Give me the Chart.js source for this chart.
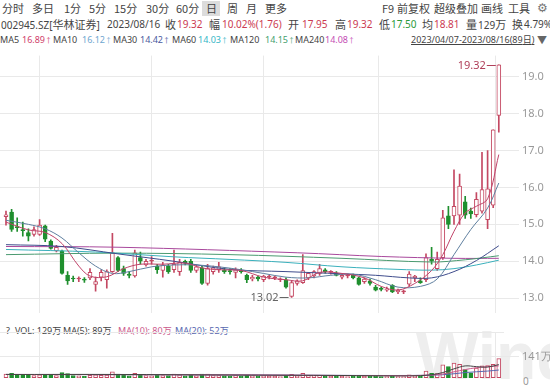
<!DOCTYPE html>
<html>
<head>
<meta charset="utf-8">
<script src="https://cdn.jsdelivr.net/npm/chart.js@4.4.1/dist/chart.umd.min.js"></script>
<style>
  html, body { margin: 0; padding: 0; background: #fff; }
  body { width: 550px; height: 388px; overflow: hidden; position: relative;
         font-family: "Noto Sans CJK SC", "Noto Sans", sans-serif; color: #444; }
  .t { position: absolute; font-size: 11px; line-height: 14px; white-space: nowrap; }
  .n { font-family: "Noto Sans", "Noto Sans CJK SC", sans-serif; font-size: 10px; }
  .m { font-family: "Noto Sans", "Noto Sans CJK SC", sans-serif; font-size: 9px; }
  .c { font-family: "Noto Sans CJK SC", sans-serif; font-size: 11px; }
  .a { font-size: 7px; }
  .r { color: #cc3a52; }
  .g { color: #2a9a3a; }
  .sel { position: absolute; left: 202px; top: 1px; width: 18px; height: 15px; background: #dcdcdc; }
  #wm { position: absolute; left: 416px; top: 318px; font: bold 66px "Liberation Sans", Arial, sans-serif; color: #eeeeee; }
  #priceChart { position: absolute; left: 0; top: 46px; }
  #volChart { position: absolute; left: 0; top: 323px; }
</style>
</head>
<body>
<div id="wm">Wind</div>

<!-- toolbar -->
<div class="sel"></div>
<span class="t" style="left:2px;top:1px">分时</span>
<span class="t" style="left:32px;top:1px">多日</span>
<span class="t" style="left:64px;top:1px">1分</span>
<span class="t" style="left:89px;top:1px">5分</span>
<span class="t" style="left:114px;top:1px">15分</span>
<span class="t" style="left:146px;top:1px">30分</span>
<span class="t" style="left:176px;top:1px">60分</span>
<span class="t" style="left:206px;top:1px">日</span>
<span class="t" style="left:227px;top:1px">周</span>
<span class="t" style="left:246px;top:1px">月</span>
<span class="t" style="left:265px;top:1px">更多</span>
<span class="t" style="left:382px;top:1px">F9</span>
<span class="t" style="left:397px;top:1px">前复权</span>
<span class="t" style="left:434px;top:1px">超级叠加</span>
<span class="t" style="left:481px;top:1px">画线</span>
<span class="t" style="left:508px;top:1px">工具</span>
<span class="t" style="left:537px;top:0px;color:#777;font-size:12px">⚙</span>

<!-- quote line -->
<span class="t n" style="left:1px;top:17px">002945.SZ[<span class="c">华林证券</span>]</span>
<span class="t n" style="left:107px;top:17px">2023/08/16</span>
<span class="t c" style="left:165px;top:17px">收</span>
<span class="t n r" style="left:177px;top:17px">19.32</span>
<span class="t c" style="left:209px;top:17px">幅</span>
<span class="t n r" style="left:222px;top:17px">10.02%(1.76)</span>
<span class="t c" style="left:288px;top:17px">开</span>
<span class="t n r" style="left:302px;top:17px">17.95</span>
<span class="t c" style="left:335px;top:17px">高</span>
<span class="t n r" style="left:347px;top:17px">19.32</span>
<span class="t c" style="left:379px;top:17px">低</span>
<span class="t n g" style="left:391px;top:17px">17.50</span>
<span class="t c" style="left:422px;top:17px">均</span>
<span class="t n r" style="left:434px;top:17px">18.81</span>
<span class="t c" style="left:466px;top:17px">量</span>
<span class="t n" style="left:478px;top:17px">129<span class="c">万</span></span>
<span class="t c" style="left:512px;top:17px">换</span>
<span class="t n" style="left:524px;top:17px">4.79%</span>

<!-- MA line -->
<span class="t m" style="left:0px;top:33px">MA5</span>
<span class="t m" style="left:22px;top:33px;color:#d0406a">16.89<span class="a">↑</span></span>
<span class="t m" style="left:53px;top:33px">MA10</span>
<span class="t m" style="left:82px;top:33px;color:#6fa6cf">16.12<span class="a">↑</span></span>
<span class="t m" style="left:113px;top:33px">MA30</span>
<span class="t m" style="left:140px;top:33px;color:#4a5a9e">14.42<span class="a">↑</span></span>
<span class="t m" style="left:172px;top:33px">MA60</span>
<span class="t m" style="left:198px;top:33px;color:#34b6c6">14.03<span class="a">↑</span></span>
<span class="t m" style="left:230px;top:33px">MA120</span>
<span class="t m" style="left:265px;top:33px;color:#44a06e">14.15<span class="a">↑</span></span>
<span class="t m" style="left:295px;top:33px">MA240</span>
<span class="t m" style="left:325px;top:33px;color:#c44cb4">14.08<span class="a">↑</span></span>
<span class="t n" style="left:411px;top:33px;font-size:9px;text-decoration:underline">2023/04/07-2023/08/16(89<span style="font-family:'Noto Sans CJK SC'">日</span>)</span>
<span class="t" style="left:537px;top:33px;color:#666;font-size:10px">▼</span>

<!-- volume legend -->
<span class="t m" style="left:6px;top:324px">?</span>
<span class="t m" style="left:15px;top:324px">VOL: 129万</span>
<span class="t m" style="left:63px;top:324px">MA(5): 89万</span>
<span class="t m" style="left:118px;top:324px;color:#cc5a8c">MA(10): 80万</span>
<span class="t m" style="left:175px;top:324px;color:#5868b0">MA(20): 52万</span>
<span class="t n" style="left:523px;top:374px;color:#999">0</span>

<canvas id="priceChart" width="550" height="277"></canvas>
<canvas id="volChart" width="550" height="65"></canvas>

<script>
// daily candles 2023/04/07 - 2023/08/16, index 0..88
const opens = [15.21,15.33,14.94,14.85,14.78,14.73,14.73,14.96,14.55,14.28,
    14.28,13.62,13.53,13.52,13.50,13.55,13.37,13.57,13.50,13.72,
    14.10,13.80,13.65,13.60,14.10,13.90,14.00,13.87,13.75,13.87,
    13.77,13.72,14.00,14.00,13.75,13.82,13.40,13.72,13.77,13.77,
    13.75,13.70,13.75,13.62,13.52,13.57,13.50,13.57,13.55,13.50,
    13.50,13.05,13.40,13.42,13.55,13.60,13.67,13.77,13.70,13.67,
    13.57,13.60,13.62,13.55,13.45,13.47,13.30,13.25,13.22,13.35,
    13.17,13.17,13.38,13.55,13.47,13.50,14.05,13.80,14.10,15.23,
    15.23,15.25,15.61,15.36,15.26,15.36,15.13,15.52,17.95];
const highs = [15.36,15.41,15.18,15.06,14.88,14.93,15.13,14.98,14.58,14.43,
    14.30,13.72,13.60,13.58,13.56,13.80,13.57,13.77,13.77,14.76,
    14.13,13.87,13.72,14.30,14.25,14.05,14.13,13.92,13.97,13.92,
    14.30,14.05,14.03,14.05,13.90,13.87,13.92,13.87,13.97,13.82,
    13.80,13.82,13.80,13.65,13.62,13.60,13.62,13.62,13.60,13.55,
    13.55,13.47,13.50,14.18,13.70,13.75,13.92,13.80,13.75,13.72,
    13.65,13.65,13.65,13.57,13.55,13.52,13.35,13.30,13.30,13.37,
    13.25,13.22,13.72,13.62,13.55,14.20,14.38,14.25,15.38,15.49,
    16.48,16.36,15.76,15.44,15.86,16.95,17.00,17.56,19.32];
const lows = [14.98,14.81,14.81,14.68,14.55,14.68,14.70,14.53,14.33,14.25,
    13.65,13.37,13.45,13.45,13.43,13.50,13.19,13.47,13.27,13.70,
    13.72,13.62,13.55,13.57,13.92,13.87,13.92,13.67,13.57,13.67,
    13.70,13.62,13.90,13.70,13.70,13.37,13.35,13.65,13.70,13.67,
    13.65,13.55,13.68,13.42,13.47,13.47,13.45,13.52,13.50,13.45,
    13.27,13.02,13.35,13.40,13.50,13.55,13.62,13.68,13.65,13.60,
    13.52,13.55,13.52,13.35,13.40,13.35,13.20,13.20,13.18,13.15,
    13.12,13.12,13.33,13.45,13.40,13.45,13.92,13.75,14.05,14.88,
    15.00,15.00,15.16,15.16,15.20,15.30,14.88,15.45,17.50];
const closes = [15.26,14.86,14.91,14.83,14.68,14.86,14.98,14.60,14.35,14.38,
    13.67,13.47,13.52,13.53,13.49,13.70,13.45,13.70,13.72,14.23,
    13.75,13.67,13.62,14.23,14.00,14.00,14.02,13.77,13.90,13.72,
    13.92,13.97,13.95,13.75,13.85,13.40,13.80,13.82,13.85,13.72,
    13.72,13.77,13.72,13.50,13.57,13.52,13.60,13.58,13.55,13.50,
    13.30,13.42,13.47,13.75,13.67,13.72,13.80,13.72,13.70,13.62,
    13.62,13.60,13.55,13.37,13.52,13.40,13.22,13.24,13.25,13.17,
    13.22,13.18,13.65,13.60,13.42,14.10,14.00,14.05,15.18,15.00,
    15.49,16.04,15.25,15.28,15.68,15.94,15.96,17.56,19.32];
// volume, 万股
const volumes = [25,30,20,16,18,15,20,22,20,15,
    35,28,15,12,10,16,20,16,18,40,
    24,18,12,30,20,14,12,16,15,14,
    25,20,12,16,13,25,24,15,14,12,
    11,14,11,18,12,11,12,9,9,8,
    16,22,12,30,15,14,16,10,9,9,
    9,8,9,14,10,12,14,8,8,12,
    8,7,20,12,9,45,30,28,88,76,
    100,90,55,33,65,80,82,90,129];

// moving averages: [day index, value]
const ma5 = [[0,15.06],[4,14.85],[7,14.78],[10,14.48],[13,13.87],[15,13.60],[18,13.58],[21,13.80],
    [24,13.92],[28,13.92],[32,13.95],[35,13.82],[38,13.77],[42,13.75],[46,13.57],[50,13.50],
    [53,13.47],[56,13.70],[60,13.67],[64,13.55],[67,13.32],[70,13.22],[73,13.40],[76,13.75],
    [78,14.18],[80,14.81],[82,15.31],[84,15.49],[86,15.69],[88,16.89]];
const ma10 = [[0,15.11],[4,15.00],[7,14.88],[10,14.63],[13,14.23],[16,13.87],[19,13.67],[22,13.72],
    [26,13.85],[30,13.90],[34,13.90],[38,13.85],[42,13.77],[46,13.67],[50,13.57],[54,13.55],
    [58,13.62],[62,13.65],[66,13.50],[70,13.30],[74,13.32],[77,13.52],[80,14.18],[83,14.86],
    [86,15.44],[88,16.12]];
const ma30 = [[0,14.45],[10,14.40],[20,14.20],[30,14.00],[40,13.78],[50,13.72],[60,13.66],
    [66,13.62],[72,13.55],[76,13.55],[80,13.72],[84,14.02],[88,14.42]];
const ma60 = [[0,14.32],[16,14.25],[30,14.12],[40,14.05],[50,13.97],[60,13.85],[70,13.78],
    [76,13.76],[80,13.80],[84,13.90],[88,14.03]];
const ma120 = [[0,14.18],[20,14.22],[40,14.18],[60,14.08],[76,13.98],[82,14.04],[88,14.15]];
const ma240 = [[0,14.40],[20,14.38],[52,14.23],[67,14.13],[80,14.08],[88,14.08]];

const volMa5 = [[0,22],[20,22],[40,18],[60,15],[70,12],[74,14],[76,20],[78,35],[80,60],[82,80],[84,75],[86,72],[88,89]];
const volMa10 = [[0,22],[40,19],[70,14],[76,18],[78,25],[80,40],[82,55],[84,68],[86,75],[88,80]];
const volMa20 = [[0,22],[40,19],[70,15],[78,20],[82,35],[86,45],[88,52]];

const priceTicks = [13, 14, 15, 16, 17, 18, 19];
const volTicks = [141];
const monthStarts = [16, 36, 56, 77];   // 5/4, 6/1, 7/3, 8/1

const UP = '#c44862';
const DOWN = '#1f8f2e';
const GRID = '#e9e9e9';

const isUp = closes.map((c, i) => c >= opens[i]);
const candleColor = isUp.map(u => u ? UP : DOWN);
const bodyFill = isUp.map((u, i) => (u && Math.abs(closes[i] - opens[i]) > 0.02) ? '#ffffff' : candleColor[i]);
const toPts = arr => arr.map(([x, y]) => ({ x, y }));

function maLine(pts, color) {
    return {
        type: 'line', data: toPts(pts), borderColor: color, borderWidth: 1,
        pointRadius: 0, tension: 0.35, order: 0
    };
}

// x range so that day i sits at 6 + 5.6*i px
const X_MIN = -1.07, X_MAX = 88.75;

function xScale(position, border) {
    return {
        type: 'linear', position: position, min: X_MIN, max: X_MAX, offset: false,
        afterBuildTicks: s => { s.ticks = monthStarts.map(v => ({ value: v })); },
        afterFit: s => { s.height = 0; },
        ticks: { display: false },
        grid: { color: GRID, drawTicks: false },
        border: { display: border, color: GRID }
    };
}

// labels for the period high / low
const hiLoLabels = {
    id: 'hiLo',
    afterDatasetsDraw(chart) {
        const { ctx, scales: { x, y } } = chart;
        const hi = Math.max(...highs), lo = Math.min(...lows);
        const marks = [
            { i: highs.indexOf(hi), v: hi, color: '#b0405a' },
            { i: lows.indexOf(lo), v: lo, color: '#666' }
        ];
        ctx.save();
        ctx.font = '11px "Noto Sans", sans-serif';
        ctx.textAlign = 'right';
        ctx.textBaseline = 'middle';
        ctx.lineWidth = 1;
        marks.forEach(m => {
            const px = x.getPixelForValue(m.i) - 3;
            const py = Math.round(y.getPixelForValue(m.v)) + 0.5;
            ctx.strokeStyle = m.color;
            ctx.fillStyle = m.color;
            ctx.beginPath();
            ctx.moveTo(px - 9, py);
            ctx.lineTo(px, py);
            ctx.stroke();
            ctx.fillText(m.v.toFixed(2), px - 10, py);
        });
        ctx.restore();
    }
};

new Chart(document.getElementById('priceChart'), {
    type: 'bar',
    data: {
        datasets: [
            maLine(ma5, '#c0446a'),
            maLine(ma10, '#5f7f9f'),
            maLine(ma30, '#3f4c8c'),
            maLine(ma60, '#3ab0bc'),
            maLine(ma120, '#4a9a70'),
            maLine(ma240, '#a8489c'),
            {
                data: opens.map((o, i) => ({ x: i, y: [o, closes[i]] })),
                backgroundColor: bodyFill, borderColor: candleColor, borderWidth: 1,
                borderSkipped: false, barThickness: 4, minBarLength: 1, grouped: false, order: 1
            },
            {
                data: lows.map((l, i) => ({ x: i, y: [l, highs[i]] })),
                backgroundColor: candleColor, borderWidth: 0,
                barThickness: 1, grouped: false, order: 2
            }
        ]
    },
    options: {
        responsive: false,
        animation: false,
        layout: { padding: 0 },
        plugins: { legend: { display: false }, tooltip: { enabled: false } },
        scales: {
            x: xScale('bottom', false),
            y: {
                position: 'right', min: 12.588, max: 19.571,
                afterBuildTicks: s => { s.ticks = priceTicks.map(v => ({ value: v })); },
                afterFit: s => { s.width = 47; },
                ticks: { color: '#999', padding: 3, font: { size: 11, family: 'Noto Sans' },
                         callback: v => v.toFixed(1) },
                grid: { color: GRID, tickLength: 16 },
                border: { display: false }
            }
        }
    },
    plugins: [hiLoLabels]
});

new Chart(document.getElementById('volChart'), {
    type: 'bar',
    data: {
        datasets: [
            maLine(volMa5, '#444444'),
            maLine(volMa10, '#cc5a8c'),
            maLine(volMa20, '#5868b0'),
            {
                data: volumes.map((v, i) => ({ x: i, y: v })),
                backgroundColor: isUp.map(u => u ? '#ffffff' : DOWN), borderColor: candleColor,
                borderWidth: 1, borderSkipped: false, barThickness: 4, grouped: false, order: 1
            }
        ]
    },
    options: {
        responsive: false,
        animation: false,
        layout: { padding: 0 },
        plugins: { legend: { display: false }, tooltip: { enabled: false } },
        scales: {
            x: xScale('top', true),
            y: {
                position: 'right', min: -4.78, max: 306,
                afterBuildTicks: s => { s.ticks = volTicks.map(v => ({ value: v })); },
                afterFit: s => { s.width = 47; },
                ticks: { color: '#999', padding: 3, font: { size: 11, family: 'Noto Sans' },
                         callback: v => v + '万' },
                grid: { color: GRID, tickLength: 16 },
                border: { display: false }
            }
        }
    }
});
</script>
</body>
</html>
